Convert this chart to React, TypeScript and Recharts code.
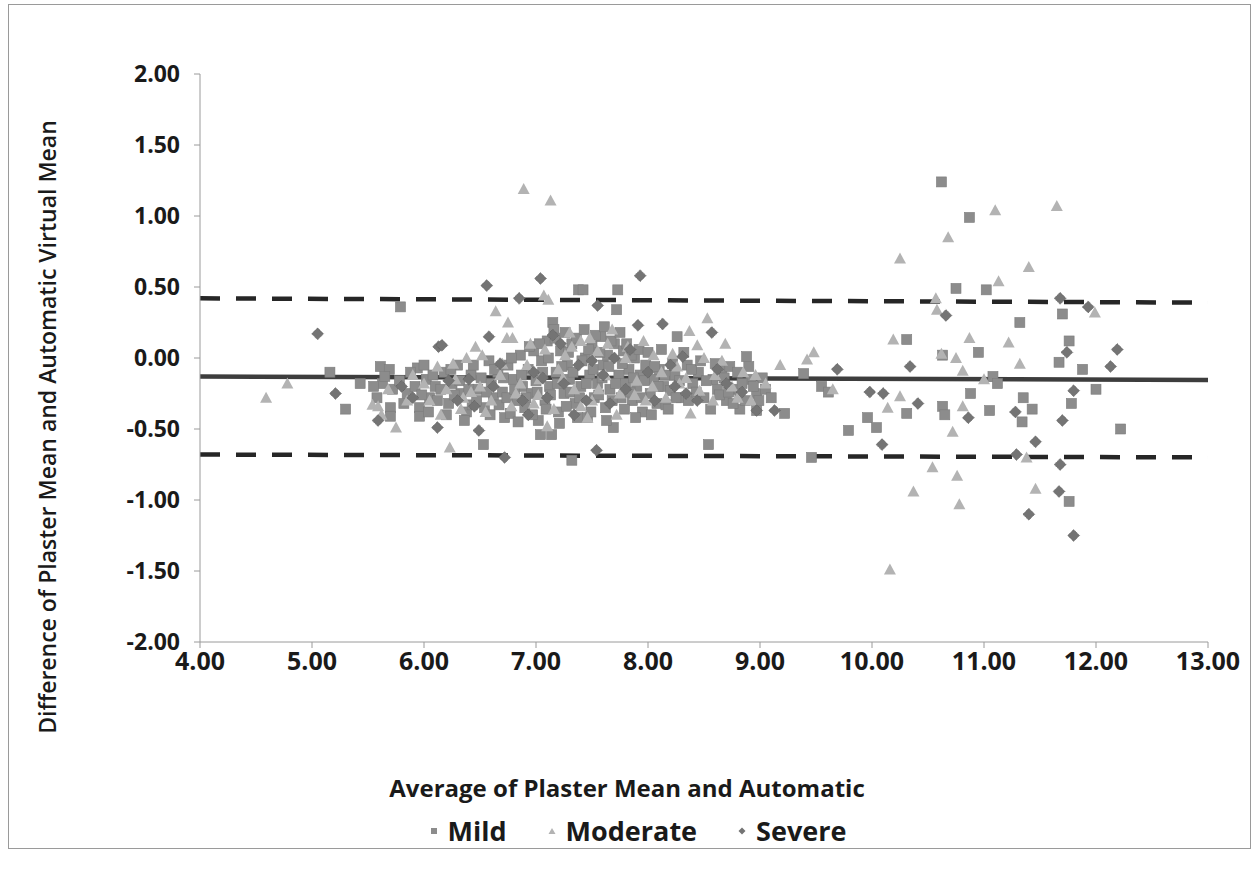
import React from 'react';
import {
  ScatterChart, Scatter, XAxis, YAxis, ZAxis, ReferenceLine, Legend,
} from 'recharts';

// ---- data ----
const xTicks = [4, 5, 6, 7, 8, 9, 10, 11, 12, 13];
const yTicks = [-2, -1.5, -1, -0.5, 0, 0.5, 1, 1.5, 2];

const meanLine = [[4, -0.13], [13, -0.155]];
const upperLimit = [[4, 0.42], [13, 0.39]];
const lowerLimit = [[4, -0.68], [13, -0.70]];

const mildPoints: number[][] = [
  [5.16,-0.10],[5.30,-0.36],[5.43,-0.18],[5.61,-0.06],[5.63,-0.18],[5.69,-0.08],[5.70,-0.35],[5.70,-0.41],[5.79,0.36],[5.85,-0.25],
  [5.94,-0.07],[5.96,-0.35],[5.96,-0.41],[6.02,-0.15],[6.05,-0.28],[6.10,-0.20],[6.18,-0.10],[6.22,-0.32],[6.25,-0.18],[6.30,-0.05],
  [6.33,-0.25],[6.38,-0.38],[6.42,-0.12],[6.43,-0.33],[6.48,-0.22],[6.53,-0.61],[6.54,-0.35],[6.58,-0.02],[6.60,-0.18],[6.62,-0.28],
  [6.66,-0.10],[6.70,-0.24],[6.72,-0.42],[6.75,-0.05],[6.77,-0.39],[6.80,-0.15],[6.83,-0.30],[6.86,0.02],[6.88,-0.20],[6.90,-0.35],
  [6.93,-0.08],[6.96,-0.25],[6.98,0.05],[7.00,-0.16],[7.02,-0.44],[7.04,-0.54],[7.05,-0.02],[7.08,-0.30],[7.10,0.12],[7.12,-0.20],
  [7.14,-0.54],[7.15,0.25],[7.16,0.20],[7.18,-0.10],[7.20,-0.38],[7.22,0.05],[7.25,-0.25],[7.28,-0.05],[7.30,-0.15],[7.32,0.10],
  [7.32,-0.72],[7.35,-0.32],[7.37,-0.42],[7.38,0.48],[7.40,-0.20],[7.42,0.48],[7.44,0.00],[7.46,-0.42],[7.48,-0.12],[7.50,0.08],
  [7.52,-0.28],[7.55,-0.18],[7.58,0.15],[7.60,-0.05],[7.62,-0.35],[7.64,0.02],[7.66,-0.22],[7.69,-0.49],[7.70,0.10],[7.72,0.34],
  [7.73,0.48],[7.74,-0.12],[7.76,-0.28],[7.78,0.05],[7.80,-0.18],[7.83,-0.08],[7.86,-0.30],[7.88,0.00],[7.90,-0.20],[7.93,-0.12],
  [7.95,-0.38],[7.98,-0.05],[8.02,-0.25],[8.05,-0.15],[8.08,-0.32],[8.10,-0.08],[8.14,-0.20],[8.16,-0.33],[8.20,-0.23],[8.24,-0.12],
  [8.26,0.15],[8.30,-0.28],[8.35,-0.05],[8.40,-0.18],[8.45,-0.10],[8.50,-0.28],[8.54,-0.61],[8.58,-0.15],[8.62,-0.22],[8.66,-0.08],
  [8.70,-0.30],[8.73,-0.06],[8.79,-0.22],[8.82,-0.27],[8.82,-0.36],[8.88,0.01],[8.92,-0.15],[8.97,-0.25],[8.97,-0.37],[9.02,-0.14],
  [9.22,-0.39],[9.39,-0.11],[9.46,-0.70],[9.55,-0.20],[9.61,-0.24],[9.79,-0.51],[9.96,-0.42],[10.04,-0.49],
  [10.31,0.13],[10.31,-0.39],[10.62,1.24],[10.63,0.02],[10.63,-0.34],[10.65,-0.40],[10.75,0.49],[10.87,0.99],[10.88,-0.25],[10.95,0.04],
  [11.02,0.48],[11.05,-0.37],[11.08,-0.13],[11.12,-0.18],[11.32,0.25],[11.34,-0.45],[11.35,-0.28],[11.43,-0.36],[11.67,-0.03],[11.70,0.31],
  [11.76,0.12],[11.76,-1.01],[11.78,-0.32],[11.88,-0.08],[12.00,-0.22],[12.22,-0.50],
  // dense core
  [5.55,-0.20],[5.58,-0.28],[5.65,-0.13],[5.72,-0.22],[5.78,-0.16],[5.82,-0.32],[5.88,-0.10],[5.92,-0.20],[5.98,-0.26],[6.00,-0.05],
  [6.04,-0.38],[6.08,-0.12],[6.12,-0.30],[6.15,-0.22],[6.20,-0.40],[6.24,-0.08],[6.27,-0.26],[6.32,-0.16],[6.36,-0.44],[6.40,-0.22],
  [6.44,-0.05],[6.47,-0.30],[6.51,-0.14],[6.56,-0.24],[6.59,-0.40],[6.63,-0.08],[6.67,-0.33],[6.71,-0.14],[6.74,-0.28],[6.78,0.00],
  [6.81,-0.22],[6.84,-0.45],[6.87,-0.12],[6.91,-0.28],[6.94,0.08],[6.97,-0.40],[7.01,-0.24],[7.03,0.10],[7.06,-0.10],[7.09,-0.36],
  [7.11,0.00],[7.13,-0.26],[7.17,0.14],[7.19,-0.18],[7.21,-0.46],[7.23,-0.06],[7.26,0.18],[7.27,-0.34],[7.29,0.04],[7.31,-0.24],
  [7.33,-0.10],[7.36,0.14],[7.39,-0.28],[7.41,-0.02],[7.43,0.20],[7.45,-0.18],[7.47,0.06],[7.49,-0.38],[7.51,-0.08],[7.53,0.16],
  [7.56,-0.26],[7.57,0.04],[7.59,-0.14],[7.61,0.22],[7.63,-0.44],[7.65,-0.06],[7.67,0.12],[7.68,-0.30],[7.71,-0.18],[7.75,0.18],
  [7.77,-0.04],[7.79,-0.36],[7.81,0.10],[7.84,-0.24],[7.85,0.02],[7.87,-0.14],[7.89,-0.42],[7.92,0.06],[7.94,-0.28],[7.97,-0.16],
  [8.00,0.04],[8.03,-0.40],[8.06,-0.06],[8.09,-0.20],[8.12,0.06],[8.15,-0.12],[8.18,-0.36],[8.22,-0.04],[8.25,-0.28],[8.28,-0.16],
  [8.32,0.04],[8.36,-0.30],[8.39,-0.08],[8.43,-0.24],[8.47,-0.02],[8.52,-0.16],[8.56,-0.36],[8.60,-0.04],[8.64,-0.26],[8.68,-0.14],
  [8.72,-0.24],[8.76,-0.32],[8.80,-0.10],[8.84,-0.18],[8.87,-0.30],[8.90,-0.06],[8.94,-0.20],[8.99,-0.30],[9.05,-0.22],[9.10,-0.28],
];

const moderatePoints: number[][] = [
  [4.59,-0.28],[4.78,-0.18],[5.54,-0.33],[5.59,-0.34],[5.75,-0.49],[5.68,-0.22],[5.90,-0.12],[6.05,-0.30],[6.12,-0.06],[6.20,-0.22],
  [6.23,-0.63],[6.28,-0.15],[6.35,-0.28],[6.38,0.00],[6.46,0.08],[6.50,-0.20],[6.55,-0.38],[6.64,0.33],[6.68,-0.12],[6.74,0.14],
  [6.75,0.25],[6.79,0.14],[6.82,-0.25],[6.89,1.19],[6.92,-0.05],[6.98,-0.32],[7.03,-0.15],[7.07,0.44],[7.10,-0.48],[7.11,0.41],
  [7.13,1.11],[7.20,-0.08],[7.26,0.02],[7.30,0.18],[7.34,-0.22],[7.40,0.12],[7.46,-0.42],[7.50,-0.30],[7.55,0.05],[7.62,-0.12],
  [7.68,0.20],[7.75,-0.25],[7.82,0.08],[7.90,-0.16],[7.98,-0.30],[8.05,0.02],[8.12,-0.10],[8.22,0.03],[8.28,-0.18],[8.37,0.19],
  [8.38,-0.39],[8.44,0.09],[8.46,-0.23],[8.53,0.28],[8.60,-0.12],[8.69,0.10],[8.75,-0.20],[8.85,-0.10],[8.92,-0.30],[9.05,-0.18],
  [9.18,-0.05],[9.42,-0.01],[9.48,0.04],[9.65,-0.22],
  [10.14,-0.35],[10.16,-1.49],[10.19,0.13],[10.25,0.70],[10.25,-0.27],[10.37,-0.94],[10.54,-0.77],[10.57,0.42],[10.58,0.34],[10.62,0.03],
  [10.68,0.85],[10.72,-0.52],[10.75,0.00],[10.76,-0.83],[10.78,-1.03],[10.81,-0.09],[10.81,-0.34],[10.87,0.14],[11.00,-0.15],[11.10,1.04],
  [11.13,0.54],[11.22,0.11],[11.32,-0.04],[11.38,-0.70],[11.40,0.64],[11.46,-0.92],[11.65,1.07],[11.99,0.32],
  // dense core
  [5.62,-0.40],[5.85,-0.30],[6.00,-0.18],[6.15,-0.40],[6.26,-0.04],[6.33,-0.36],[6.42,-0.24],[6.52,0.02],[6.60,-0.30],[6.70,-0.04],
  [6.78,-0.34],[6.86,-0.18],[6.95,0.10],[7.02,-0.26],[7.08,0.06],[7.16,-0.36],[7.24,-0.14],[7.32,0.08],[7.40,-0.34],[7.48,0.14],
  [7.56,-0.22],[7.64,0.10],[7.72,-0.40],[7.80,0.00],[7.88,-0.26],[7.96,0.12],[8.04,-0.20],[8.16,-0.28],[8.26,-0.06],[8.34,-0.14],
  [8.50,0.00],[8.58,-0.30],[8.66,-0.02],[8.80,-0.28],[8.96,-0.12],
];

const severePoints: number[][] = [
  [5.05,0.17],[5.21,-0.25],[5.59,-0.44],[5.80,-0.20],[6.12,-0.49],[6.13,0.08],[6.16,0.09],[6.30,-0.30],[6.40,-0.15],[6.49,-0.51],
  [6.56,0.51],[6.58,0.15],[6.62,-0.20],[6.72,-0.70],[6.85,0.42],[6.93,-0.40],[6.98,-0.10],[7.04,0.56],[7.10,-0.28],[7.15,0.16],
  [7.25,-0.18],[7.38,-0.05],[7.45,-0.30],[7.54,-0.65],[7.55,0.37],[7.60,-0.12],[7.70,0.00],[7.80,-0.22],[7.91,0.23],[7.93,0.58],
  [8.00,-0.10],[8.13,0.24],[8.20,-0.05],[8.31,0.01],[8.34,-0.25],[8.57,0.18],[8.70,-0.18],[8.97,-0.37],[9.13,-0.37],[9.69,-0.08],
  [9.98,-0.24],[10.09,-0.61],[10.10,-0.25],[10.34,-0.06],[10.41,-0.32],[10.66,0.30],[10.86,-0.42],[11.28,-0.38],[11.29,-0.68],[11.40,-1.10],
  [11.46,-0.59],[11.68,0.42],[11.67,-0.94],[11.68,-0.75],[11.70,-0.44],[11.74,0.04],[11.80,-0.23],[11.80,-1.25],[11.93,0.36],[12.13,-0.06],
  [12.19,0.06],
  // dense core
  [5.90,-0.28],[6.22,-0.16],[6.45,-0.34],[6.68,-0.04],[6.88,-0.30],[7.06,-0.14],[7.22,0.10],[7.34,-0.40],[7.50,-0.02],[7.66,-0.32],
  [7.84,0.06],[8.06,-0.30],[8.24,-0.20],[8.44,-0.30],[8.62,-0.08],[8.84,-0.24],
];

const seriesNames = ['Mild', 'Moderate', 'Severe'];
const xTitle = 'Average of Plaster Mean and Automatic';
const yTitle = 'Difference of Plaster Mean and Automatic Virtual Mean';

const toObj = (arr: number[][]) => arr.map(([x, y]) => ({ x, y }));

const FONT = '"Open Sans", "Liberation Sans", sans-serif';
const COLORS = { mild: '#8c8c8c', moderate: '#b3b3b3', severe: '#747474' };

const W = 1241;
const H = 843;

const XTitle = () => (
  <text x={618} y={792} textAnchor="middle" fontFamily={FONT} fontWeight={700} fontSize={24} fill="#1a1a1a">
    {xTitle}
  </text>
);

const YTitle = () => (
  <text
    x={0}
    y={0}
    transform="translate(38, 422) rotate(-90)"
    textAnchor="middle"
    dominantBaseline="central"
    fontFamily={FONT}
    fontWeight={600}
    fontSize={23}
    fill="#1a1a1a"
  >
    {yTitle}
  </text>
);

const SquareShape = (props: any) => {
  const { cx, cy } = props;
  if (cx == null || cy == null) return null;
  return <rect x={cx - 5} y={cy - 5} width={10} height={10} fill={COLORS.mild} stroke="#7c7c7c" strokeWidth={0.6} />;
};

const TriangleShape = (props: any) => {
  const { cx, cy } = props;
  if (cx == null || cy == null) return null;
  return <polygon points={`${cx},${cy - 6} ${cx + 6},${cy + 5} ${cx - 6},${cy + 5}`} fill={COLORS.moderate} />;
};

const DiamondShape = (props: any) => {
  const { cx, cy } = props;
  if (cx == null || cy == null) return null;
  return <polygon points={`${cx},${cy - 6} ${cx + 6},${cy} ${cx},${cy + 6} ${cx - 6},${cy}`} fill={COLORS.severe} stroke="#555" strokeWidth={0.7} strokeDasharray="1 1" />;
};

const LegendMarker = ({ kind, color }: { kind: string; color: string }) => {
  if (kind === 'square') {
    return <svg width={10} height={10}><rect x={2} y={2} width={6} height={6} fill={color} /></svg>;
  }
  if (kind === 'triangle') {
    return <svg width={10} height={10}><polygon points="5,2 8.5,8 1.5,8" fill={color} /></svg>;
  }
  return <svg width={10} height={10}><polygon points="5,1.5 8.5,5 5,8.5 1.5,5" fill={color} /></svg>;
};

const legendItems = [
  { name: seriesNames[0], kind: 'square', color: COLORS.mild },
  { name: seriesNames[1], kind: 'triangle', color: COLORS.moderate },
  { name: seriesNames[2], kind: 'diamond', color: COLORS.severe },
];

const CustomLegend = () => (
  <div style={{ display: 'flex', justifyContent: 'center', alignItems: 'center', fontFamily: FONT, fontWeight: 700, fontSize: 27, color: '#1a1a1a', paddingLeft: 16 }}>
    {legendItems.map((it, i) => (
      <div key={it.name} style={{ display: 'flex', alignItems: 'center', marginLeft: i === 0 ? 0 : 40 }}>
        <LegendMarker kind={it.kind} color={it.color} />
        <span style={{ marginLeft: 9 }}>{it.name}</span>
      </div>
    ))}
  </div>
);

export default function App() {
  const fmt = (v: number) => v.toFixed(2);
  return (
    <div style={{ position: 'absolute', left: 9, top: 5, width: W, height: H, outline: '1px solid #9a9a9a', background: '#fff' }}>
      <ScatterChart width={W} height={H} margin={{ top: 69, right: 42, left: 111, bottom: 166 }}>
        <XAxis
          type="number"
          dataKey="x"
          domain={[4, 13]}
          ticks={xTicks}
          tickFormatter={fmt}
          allowDataOverflow
          height={40}
          tickSize={6}
          tickMargin={4}
          stroke="#9a9a9a"
          tick={{ fontFamily: FONT, fontWeight: 700, fontSize: 25, fill: '#1a1a1a' }}
          label={<XTitle />}
        />
        <YAxis
          type="number"
          dataKey="y"
          domain={[-2, 2]}
          ticks={yTicks}
          tickFormatter={fmt}
          allowDataOverflow
          width={80}
          tickSize={6}
          tickMargin={14}
          stroke="#9a9a9a"
          tick={{ fontFamily: FONT, fontWeight: 700, fontSize: 23, fill: '#1a1a1a' }}
          label={<YTitle />}
        />
        <ZAxis range={[100, 100]} />
        <Scatter name={seriesNames[0]} data={toObj(mildPoints)} shape={<SquareShape />} fill={COLORS.mild} isAnimationActive={false} />
        <Scatter name={seriesNames[1]} data={toObj(moderatePoints)} shape={<TriangleShape />} fill={COLORS.moderate} isAnimationActive={false} />
        <Scatter name={seriesNames[2]} data={toObj(severePoints)} shape={<DiamondShape />} fill={COLORS.severe} isAnimationActive={false} />
        <ReferenceLine segment={toObj(upperLimit)} stroke="#262626" strokeWidth={4.5} strokeDasharray="20 16" />
        <ReferenceLine segment={toObj(lowerLimit)} stroke="#262626" strokeWidth={4.5} strokeDasharray="20 16" />
        <ReferenceLine segment={toObj(meanLine)} stroke="#3d3d3d" strokeWidth={4.5} />
        <Legend
          layout="horizontal"
          verticalAlign="middle"
          align="center"
          content={<CustomLegend />}
          wrapperStyle={{ top: 807, left: 0, width: W, height: 38 }}
        />
      </ScatterChart>
    </div>
  );
}
